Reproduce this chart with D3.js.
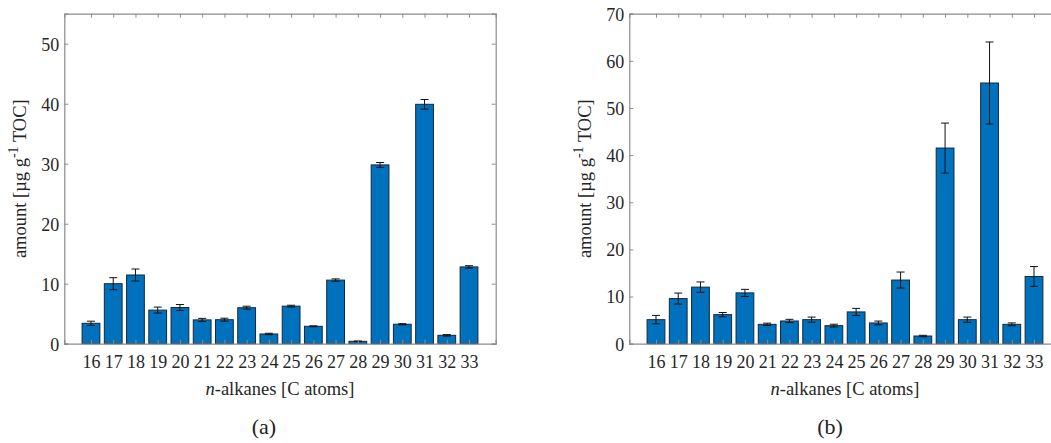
<!DOCTYPE html>
<html>
<head>
<meta charset="utf-8">
<script src="https://cdn.jsdelivr.net/npm/d3@7"></script>
<style>
  body { margin: 0; background: #fff; }
  svg { display: block; }
  svg text { font-family: "Liberation Serif", "Times New Roman", "DejaVu Serif", serif; }
</style>
</head>
<body>
<svg id="chart" width="1051" height="443"></svg>
<script>
// alkane chain lengths (C atoms)
var carbons = [16, 17, 18, 19, 20, 21, 22, 23, 24, 25, 26, 27, 28, 29, 30, 31, 32, 33];

// panel (a)
var valuesA = [3.4, 10.0, 11.45, 5.6, 6.03, 3.97, 4.0, 6.0, 1.62, 6.26, 2.9, 10.6, 0.4, 29.8, 3.24, 39.9, 1.4, 12.8];
var errorsA = [0.35, 1.0, 1.0, 0.5, 0.5, 0.25, 0.25, 0.25, 0.12, 0.15, 0.08, 0.2, 0.05, 0.4, 0.1, 0.8, 0.12, 0.2];
var yTicksA = [0, 10, 20, 30, 40, 50];

// panel (b)
var valuesB = [5.1, 9.57, 12.0, 6.17, 10.78, 4.11, 4.82, 5.1, 3.83, 6.74, 4.4, 13.5, 1.63, 41.5, 5.1, 55.3, 4.11, 14.26];
var errorsB = [0.9, 1.17, 1.1, 0.45, 0.75, 0.25, 0.35, 0.55, 0.3, 0.75, 0.4, 1.7, 0.15, 5.3, 0.55, 8.7, 0.3, 2.1];
var yTicksB = [0, 10, 20, 30, 40, 50, 60, 70];

var svg = d3.select('#chart');
var serif = '"Liberation Serif", "Times New Roman", "DejaVu Serif", serif';

drawPanel({ left: 64.3, width: 431.4, yMax: 55, values: valuesA, errors: errorsA, yTicks: yTicksA, caption: '(a)', captionX: 264 });
drawPanel({ left: 629.3, width: 431.4, yMax: 70, values: valuesB, errors: errorsB, yTicks: yTicksB, caption: '(b)', captionX: 830 });

function drawPanel(p) {
  var top = 13.7, bottom = 343.7;
  var axisColor = '#8c8c8c';

  var x = d3.scaleLinear().domain([14.8, 34.2]).range([p.left, p.left + p.width]);
  var y = d3.scaleLinear().domain([0, p.yMax]).range([bottom, top]);
  var barW = x(0.8) - x(0);

  var g = svg.append('g');

  // bars
  g.selectAll('rect.bar')
    .data(p.values)
    .enter()
    .append('rect')
    .attr('class', 'bar')
    .attr('x', function(d, i) { return x(carbons[i]) - barW / 2; })
    .attr('y', function(d) { return y(d); })
    .attr('width', barW)
    .attr('height', function(d) { return bottom - y(d); })
    .attr('fill', '#0072BD')
    .attr('stroke', '#14283c')
    .attr('stroke-width', 1);

  // error bars
  var eb = g.selectAll('g.err')
    .data(p.values)
    .enter()
    .append('g')
    .attr('class', 'err')
    .attr('stroke', '#111')
    .attr('stroke-width', 1);
  eb.append('line')
    .attr('x1', function(d, i) { return x(carbons[i]); })
    .attr('x2', function(d, i) { return x(carbons[i]); })
    .attr('y1', function(d, i) { return y(d - p.errors[i]); })
    .attr('y2', function(d, i) { return y(d + p.errors[i]); });
  [-1, 1].forEach(function(s) {
    eb.append('line')
      .attr('x1', function(d, i) { return x(carbons[i]) - 4; })
      .attr('x2', function(d, i) { return x(carbons[i]) + 4; })
      .attr('y1', function(d, i) { return y(d + s * p.errors[i]); })
      .attr('y2', function(d, i) { return y(d + s * p.errors[i]); });
  });

  // axes
  var xAxis = d3.axisBottom(x).tickValues(carbons).tickSize(-4).tickPadding(12);
  var gx = g.append('g').attr('transform', 'translate(0,' + bottom + ')').call(xAxis);
  var xTop = d3.axisTop(x).tickValues(carbons).tickSize(-4).tickFormat('');
  var gxt = g.append('g').attr('transform', 'translate(0,' + top + ')').call(xTop);
  var yAxis = d3.axisLeft(y).tickValues(p.yTicks).tickSize(-4).tickPadding(5);
  var gy = g.append('g').attr('transform', 'translate(' + p.left + ',0)').call(yAxis);
  var yRight = d3.axisRight(y).tickValues(p.yTicks).tickSize(-4).tickFormat('');
  var gyr = g.append('g').attr('transform', 'translate(' + (p.left + p.width) + ',0)').call(yRight);

  [gx, gxt, gy, gyr].forEach(function(a) {
    a.attr('font-family', serif).attr('font-size', 18);
    a.select('.domain').attr('stroke', axisColor).attr('stroke-width', 1.2);
    a.selectAll('.tick line').attr('stroke', axisColor);
    a.selectAll('.tick text').attr('fill', '#262626');
  });
  gy.selectAll('.tick text').attr('dy', '0.35em');

  // axis titles
  g.append('text')
    .attr('x', (x.range()[0] + x.range()[1]) / 2)
    .attr('y', 395)
    .attr('text-anchor', 'middle')
    .attr('font-family', serif)
    .attr('font-size', 18.5)
    .attr('fill', '#262626')
    .html('<tspan font-style="italic">n</tspan>-alkanes [C atoms]');

  var yl = g.append('text')
    .attr('transform', 'translate(' + (p.left - 38) + ',' + ((top + bottom) / 2) + ') rotate(-90)')
    .attr('text-anchor', 'middle')
    .attr('font-family', serif)
    .attr('font-size', 18.5)
    .attr('fill', '#262626');
  yl.append('tspan').text('amount [µg g');
  yl.append('tspan').attr('dy', -8).attr('font-size', 14).text('-1');
  yl.append('tspan').attr('dy', 8).text(' TOC]');

  // caption
  g.append('text')
    .attr('x', p.captionX)
    .attr('y', 434)
    .attr('text-anchor', 'middle')
    .attr('font-family', serif)
    .attr('font-size', 22)
    .attr('fill', '#222')
    .text(p.caption);
}
</script>
</body>
</html>
